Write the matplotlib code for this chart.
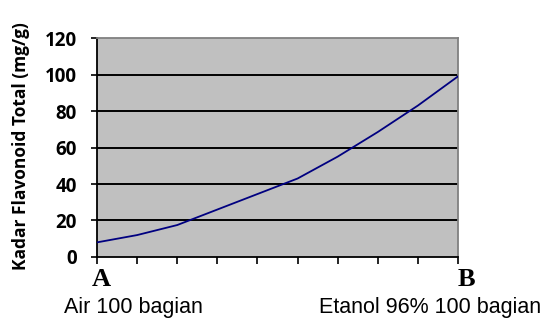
import matplotlib
matplotlib.use("Agg")
import matplotlib.pyplot as plt
import numpy as np

# kadar flavonoid total along the solvent gradient A (air) -> B (etanol 96%)
positions = list(range(10))
kadar = [8, 12, 17.5, 26, 34.5, 43, 55, 68.5, 83, 99]
y_ticks = [0, 20, 40, 60, 80, 100, 120]
end_labels = ["A", "B"]
bottom_labels = ["Air 100 bagian", "Etanol 96% 100 bagian"]
y_title = "Kadar Flavonoid Total (mg/g)"

fig = plt.figure(figsize=(5.55, 3.2), dpi=100)
ax = fig.add_axes([0.1748, 0.197, 0.6504, 0.684])
ax.set_facecolor("#C0C0C0")

for v in y_ticks[1:-1]:
    ax.axhline(v, color="black", linewidth=1.4, zorder=1)

ax.plot(positions, kadar, color="#000080", linewidth=1.3, zorder=3)

ax.set_xlim(positions[0], positions[-1])
ax.set_ylim(y_ticks[0], y_ticks[-1])
ax.set_xticks(positions)
ax.set_xticklabels([])
ax.set_yticks(y_ticks)
ax.set_yticklabels([str(t) for t in y_ticks], fontsize=13.5, fontweight="bold",
                   family="Open Sans")
ax.tick_params(axis="y", direction="out", length=4.5, width=1.2, pad=10)
ax.tick_params(axis="x", direction="out", length=5, width=1.2)

ax.spines["left"].set_color("black")
ax.spines["bottom"].set_color("black")
ax.spines["left"].set_linewidth(1.3)
ax.spines["bottom"].set_linewidth(1.3)
for s in ["top", "right"]:
    ax.spines[s].set_color("#808080")
    ax.spines[s].set_linewidth(1.3)

fig.text(21 / 555, 1 - 146 / 320, y_title, rotation=90, ha="center", va="center",
         fontsize=12.5, fontweight="bold", family="Open Sans")

# end point letters under the axis
trans = ax.get_xaxis_transform()
ax.text(positions[0] + 0.1, -0.05, end_labels[0], transform=trans, ha="center", va="top",
        fontsize=19, fontweight="bold", family="Liberation Serif")
ax.text(positions[-1] + 0.2, -0.05, end_labels[1], transform=trans, ha="center", va="top",
        fontsize=19, fontweight="bold", family="Liberation Serif")

fig.text(133 / 555, 1 - 308 / 320, bottom_labels[0], ha="center", va="center",
         fontsize=15.5, family="Liberation Sans")
fig.text(430 / 555, 1 - 308 / 320, bottom_labels[1], ha="center", va="center",
         fontsize=15.5, family="Liberation Sans")

fig.savefig("out.png", dpi=100)
